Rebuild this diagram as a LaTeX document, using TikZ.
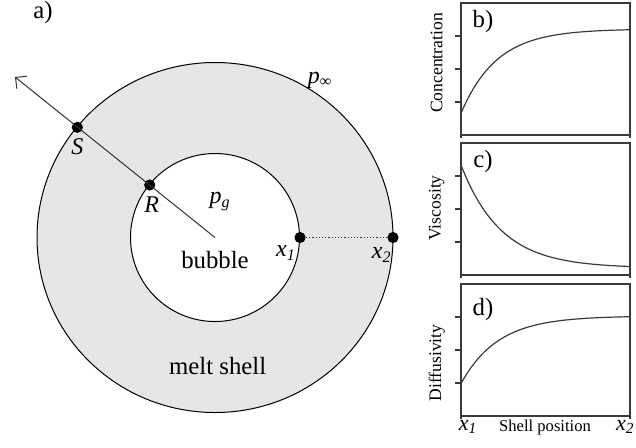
\documentclass[tikz,border=0pt]{standalone}
\usepackage{fontspec}
\setmainfont{Liberation Serif}
\usetikzlibrary{arrows.meta}
\definecolor{shell}{HTML}{E6E6E6}
\definecolor{ink}{HTML}{3A3A3A}

\begin{document}
\begin{tikzpicture}[x=0.5pt, y=-0.5pt,
  dot/.style={circle, fill=black, inner sep=0pt, minimum size=5.6pt},
  bigtxt/.style={font=\fontsize{12.4}{14}\selectfont},
  itl/.style={font=\fontsize{12}{14}\selectfont\itshape},
  axlab/.style={font=\fontsize{8.8}{10}\selectfont, rotate=90},
  frame/.style={ink, line width=0.6pt}]
  \clip (0,0) rectangle (636,447);

  % Shell and bubble
  \coordinate (O) at (215,237.5);
  \filldraw[fill=shell, draw=black, line width=0.5pt] (O) circle[x radius=178, y radius=175];
  \filldraw[fill=white, draw=black, line width=0.5pt] (O) circle[x radius=84.5, y radius=84];
  \node[bigtxt] (panA) at (43,13) {a)};
  \node[bigtxt] (bubble) at (215,260) {bubble};
  \node[bigtxt] (melt) at (217.7,366) {melt shell};

  % Radius and points
  \coordinate (tip) at (15,77);
  \node[dot] (S) at (77.3,127.3) {};
  \node[dot] (R) at (149.7,185) {};
  \node[dot] (x1) at (300,237.5) {};
  \node[dot] (x2) at (393,237.5) {};
  \draw[-{Straight Barb[length=4pt, width=8pt]}, black!80, line width=0.5pt] (O) -- (tip);
  \draw[densely dotted, ink, line width=0.6pt] (x1) -- (x2);
  \node[itl] (labS) at (77.3,146.7) {S};
  \node[itl] (labR) at (151.7,205) {R};
  \node[itl] (pg) at (220,201.7) {p\textsubscript{g}};
  \node[itl] (pinf) at (320,80) {p\textsubscript{∞}};
  \node[itl] (labx1) at (286,253) {x\textsubscript{1}};
  \node[itl] (labx2) at (381.7,255) {x\textsubscript{2}};

  % Profiles
  \foreach \top/\name/\ly/\ylab/\yc in {3/b/19/Concentration/63, 143/c/19/Viscosity/208, 284/d/26/Diffusivity/363} {
    \draw[frame] (461,\top) rectangle (630,{\top+132});
    \draw[frame] (461,{\top+132}) -- (461,{\top+135});
    \draw[frame] (630,{\top+132}) -- (630,{\top+135});
    \foreach \t in {33,66,99}
      \draw[frame] (455,{\top+\t}) -- (461,{\top+\t});
    \node[bigtxt] (pan\name) at (483,{\top+\ly}) {\name)};
    \node[axlab] (ax\name) at (436.7,\yc) {\ylab};
  }
  \draw[ink, line width=0.6pt] plot[domain=0:169, samples=80, smooth]
    ({461+\x}, {135-(106-84.3*exp(-0.028*\x))});
  \draw[ink, line width=0.6pt] plot[domain=0:169, samples=80, smooth]
    ({461+\x}, {275-(7+103*exp(-0.025*\x))});
  \draw[ink, line width=0.6pt] plot[domain=0:169, samples=80, smooth]
    ({461+\x}, {416-(100-67.6*exp(-0.027*\x))});

  % Shell position axis
  \node[itl, font=\fontsize{11}{13}\selectfont\itshape] (sx1) at (468,427) {x\textsubscript{1}};
  \node[font=\fontsize{8.3}{10}\selectfont] (shpos) at (545,427) {Shell position};
  \node[itl, font=\fontsize{11}{13}\selectfont\itshape, anchor=east, inner xsep=0.5pt] (sx2) at (636,427) {x\textsubscript{2}};
\end{tikzpicture}
\end{document}
